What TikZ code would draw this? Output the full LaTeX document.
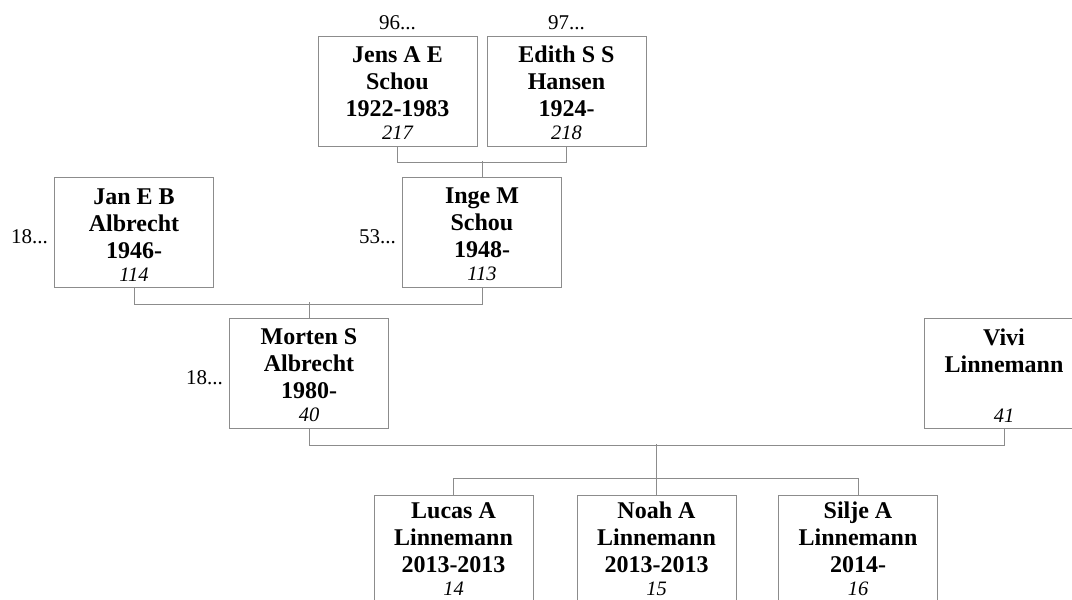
\documentclass[tikz,border=0pt]{standalone}
\usepackage{fontspec}
\setmainfont{Liberation Serif}
\definecolor{linegray}{RGB}{140,140,140}
\newcommand{\famno}[1]{{\fontsize{20.5}{24}\selectfont\mdseries\itshape #1}}
\newcommand{\kidno}[1]{\famno{#1}\rule[-6pt]{0pt}{6pt}}
\newcommand{\topline}{\rule{0pt}{20pt}}
\begin{document}
\begin{tikzpicture}[x=1pt, y=-1pt,
  person/.style={draw=linegray, line width=1pt, minimum width=159pt, minimum height=110pt,
    inner sep=0pt, align=center, font=\fontsize{24}{27}\selectfont\bfseries},
  refno/.style={inner sep=0pt, font=\fontsize{21}{24}\selectfont},
  link/.style={draw=linegray, line width=1pt}]
\useasboundingbox (0,0) rectangle (1072,600);
% grandparents
\node[person] (jens) at (397.5,91) {\topline Jens A E\\Schou\\1922-1983\\[-4pt]\famno{217}};
\node[person] (edith) at (566.5,91) {\topline Edith S S\\Hansen\\1924-\\[-4pt]\famno{218}};
\node[refno, anchor=base] (jensref) at ([yshift=6pt]jens.north) {96...};
\node[refno, anchor=base] (edithref) at ([yshift=6pt]edith.north) {97...};
% parents
\node[person] (jan) at (134,232.5) {\topline Jan E B\\Albrecht\\1946-\\[-4pt]\famno{114}};
\node[person] (inge) at (482,232.5) {\topline Inge M\\Schou\\1948-\\[-4pt]\famno{113}};
\node[refno, anchor=base east] (janref) at ([xshift=-6pt,yshift=-11pt]jan.west) {18...};
\node[refno, anchor=base east] (ingeref) at ([xshift=-6pt,yshift=-11pt]inge.west) {53...};
\draw[link] (jens.south) -- ++(0,16) -| (edith.south);
\draw[link] (inge.north) -- ++(0,-16);
% couple
\node[person] (morten) at (309,373.5) {\topline Morten S\\Albrecht\\1980-\\[-4pt]\famno{40}};
\node[person] (vivi) at (1004,373.5) {\topline Vivi\\Linnemann\\\mbox{}\\[-4pt]\famno{41}};
\node[refno, anchor=base east] (mortenref) at ([xshift=-6pt,yshift=-11pt]morten.west) {18...};
\draw[link] (jan.south) -- ++(0,16) -| (inge.south);
\draw[link] (morten.north) -- ++(0,-16);
% children
\node[person] (lucas) at (453.5,550) {\topline Lucas A\\Linnemann\\2013-2013\\[-4pt]\kidno{14}};
\node[person] (noah) at (656.5,550) {\topline Noah A\\Linnemann\\2013-2013\\[-4pt]\kidno{15}};
\node[person] (silje) at (858,550) {\topline Silje A\\Linnemann\\2014-\\[-4pt]\kidno{16}};
\draw[link] (morten.south) -- ++(0,16) -| (vivi.south);
\draw[link] (lucas.north) -- ++(0,-16) -| (silje.north);
\draw[link] (noah.north) -- ++(0,-51);
\end{tikzpicture}
\end{document}
